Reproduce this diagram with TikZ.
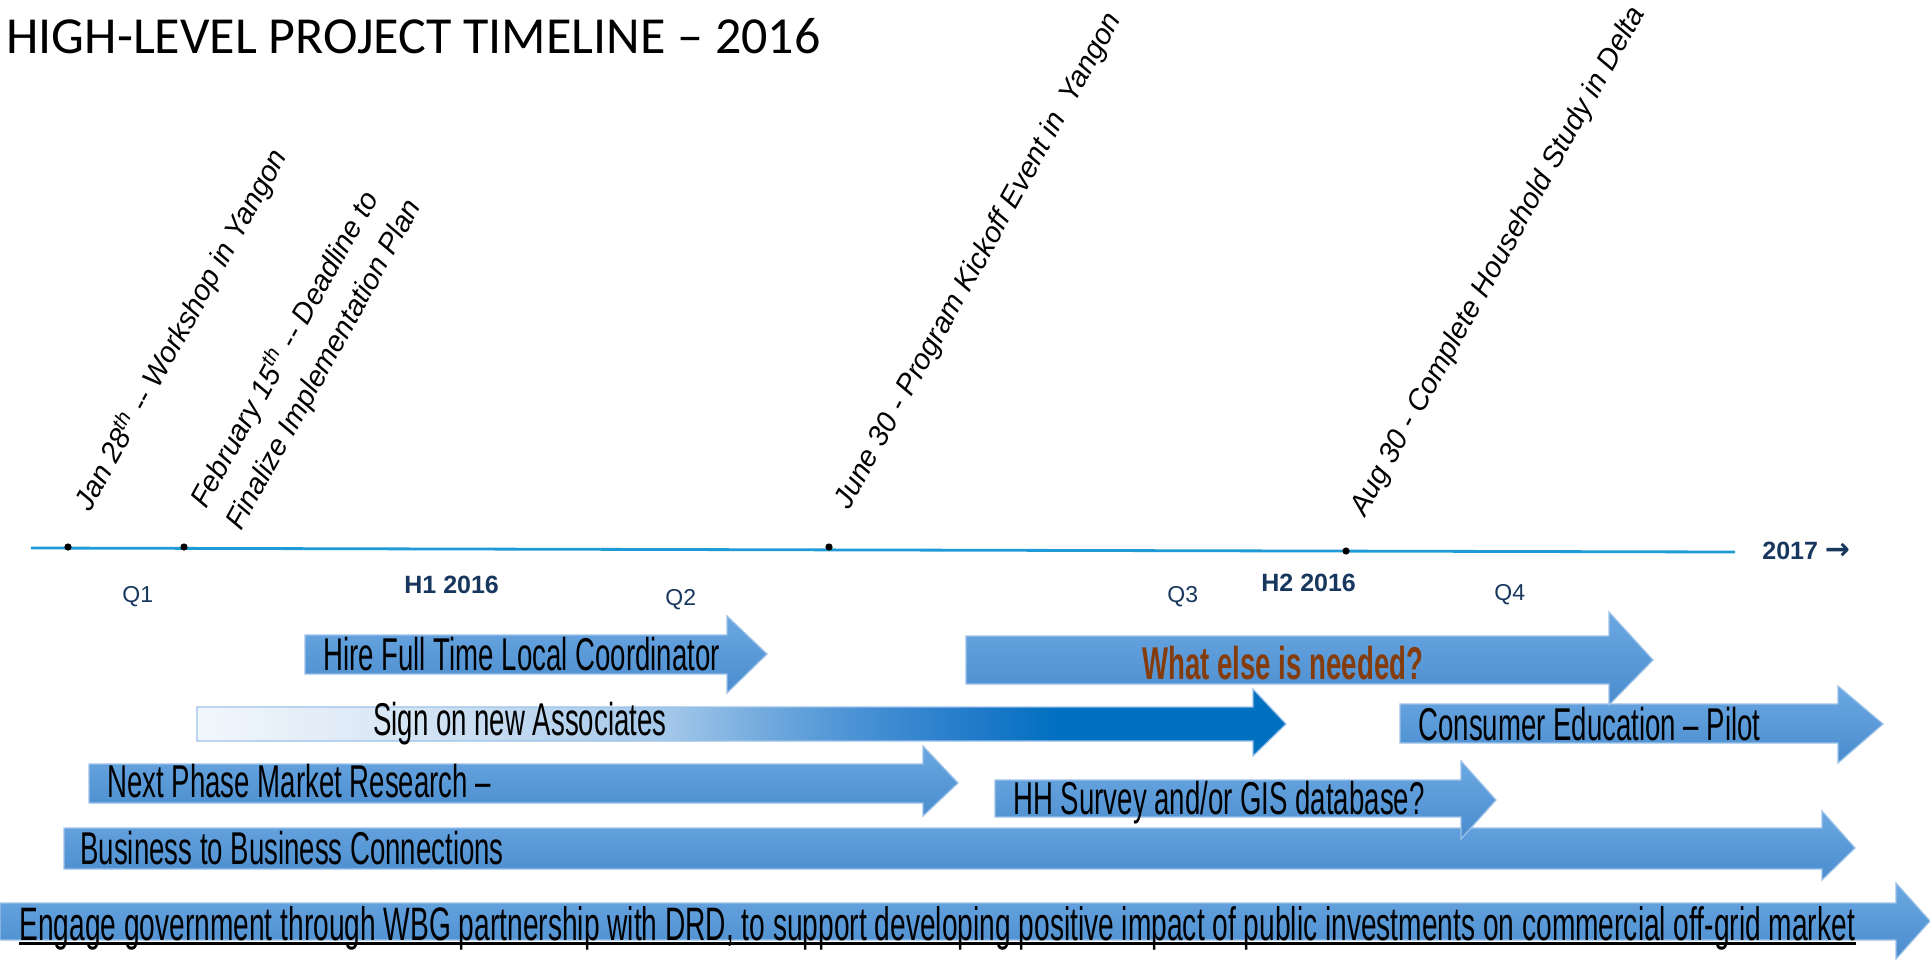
\documentclass[tikz,border=0pt]{standalone}
\usepackage{fontspec}
\setmainfont{Liberation Sans}
\newfontfamily\titlefont{Carlito}
\newfontfamily\arrowfont{DejaVu Sans}
\newfontfamily\barfont[FakeStretch=0.6]{Liberation Sans}
\usetikzlibrary{arrows.meta}
\definecolor{tlblue}{HTML}{1E9AD6}
\definecolor{navy}{HTML}{17375E}
\definecolor{bartop}{HTML}{6BA8E2}
\definecolor{barbot}{HTML}{4A8CCE}
\definecolor{baredge}{HTML}{9CC2E8}
\definecolor{askbrown}{HTML}{843C0C}
\definecolor{sgA}{HTML}{F2F7FC}
\definecolor{sgB}{HTML}{DCE9F6}
\definecolor{sgC}{HTML}{A4C8EA}
\definecolor{sgD}{HTML}{72AADD}
\definecolor{sgE}{HTML}{4891D4}
\definecolor{sgF}{HTML}{1F79C9}
\definecolor{sgG}{HTML}{0070C0}
\pgfdeclarehorizontalshading{signshade}{100bp}{color(0bp)=(sgA); color(25bp)=(sgA); color(33bp)=(sgB); color(46.5bp)=(sgC); color(51bp)=(sgD); color(55.5bp)=(sgE); color(61bp)=(sgF); color(64.5bp)=(sgG); color(100bp)=(sgG)}

\begin{document}
\begin{tikzpicture}[x=0.5pt,y=-0.5pt,
  bar/.style={top color=bartop,bottom color=barbot,draw=baredge,line width=0.6pt},
  bartxt/.style={anchor=base west,inner sep=0pt,font=\barfont\fontsize{23}{26}\selectfont},
  mile/.style={anchor=base west,inner sep=0pt,rotate=61,font=\itshape\fontsize{14.5}{20.5}\selectfont},
  dot/.style={circle,fill=black,inner sep=0pt,minimum size=3.6pt},
  qtxt/.style={anchor=base west,inner sep=0pt,text=navy,font=\fontsize{11.5}{13}\selectfont},
  htxt/.style={qtxt,font=\bfseries\fontsize{12.5}{14}\selectfont}]
\useasboundingbox (0,0) rectangle (1930,959);
\node[anchor=base west,inner sep=0pt,font=\titlefont\fontsize{26}{30}\selectfont] (title) at (6,53) {HIGH-LEVEL PROJECT TIMELINE – 2016};

% time line and milestones
\draw[tlblue,line width=1.4pt] (31,548) -- (1735,552);
\node[dot] (jan) at (68,547) {};
\node[dot] (feb) at (184,547) {};
\node[dot] (jun) at (829,547) {};
\node[dot] (aug) at (1346,551) {};
\node[mile] (janlbl) at ([shift={(22,-34)}]jan) {Jan 28\textsuperscript{th} -{}- Workshop in Yangon};
\node[mile] (feblbl) at ([shift={(22,-37)}]feb) {February 15\textsuperscript{th} -{}- Deadline to};
\node[mile] (feblbl2) at ([shift={(57,-15)}]feb) {Finalize Implementation Plan};
\node[mile] (junlbl) at ([shift={(20,-36)}]jun) {June 30 - Program Kickoff Event in\ \ Yangon};
\node[mile] (auglbl) at ([shift={(19,-33)}]aug) {Aug 30 - Complete Household Study in Delta};
\node[htxt] (next) at (1762,559) {2017 {\arrowfont\bfseries\fontsize{15}{15}\selectfont →}};

% halves and quarters
\node[qtxt] (q1) at (122,602) {Q1};
\node[htxt] (h1) at (404,593) {H1 2016};
\node[qtxt] (q2) at (665,605) {Q2};
\node[qtxt] (q3) at (1167,602) {Q3};
\node[htxt] (h2) at (1261,591) {H2 2016};
\node[qtxt] (q4) at (1494,600) {Q4};

% work streams, bottom row first
\path[bar] (0,903) -- (1896,903) -- (1896,883) -- (1930,921) -- (1896,959) -- (1896,940) -- (0,940) -- cycle;
\path[bar] (64,828) -- (1822,828) -- (1822,811) -- (1855,848) -- (1822,880) -- (1822,869) -- (64,869) -- cycle;
\path[bar] (995,780) -- (1461,780) -- (1461,761) -- (1496,800) -- (1461,839) -- (1461,817) -- (995,817) -- cycle;
\path[bar] (89,764) -- (923,764) -- (923,746) -- (958,783) -- (923,816) -- (923,803) -- (89,803) -- cycle;
\path[bar] (1400,704) -- (1838,704) -- (1838,686) -- (1883,724) -- (1838,763) -- (1838,743) -- (1400,743) -- cycle;
\path[shading=signshade,draw=baredge,line width=0.6pt] (197,707) -- (1253,707) -- (1253,689) -- (1286,724) -- (1253,756) -- (1253,741) -- (197,741) -- cycle;
\path[bar] (966,636) -- (1609,636) -- (1609,612) -- (1653,660) -- (1609,705) -- (1609,684) -- (966,684) -- cycle;
\path[bar] (305,635) -- (727,635) -- (727,616) -- (767,654) -- (727,693) -- (727,674) -- (305,674) -- cycle;

\node[bartxt,font=\barfont\fontsize{23.45}{26}\selectfont] (eng) at (19,940) {Engage government through WBG partnership with DRD, to support developing positive impact of public investments on commercial off-grid market};
\draw[line width=1.5pt] ([yshift=-1.5pt]eng.base west) -- ([yshift=-1.5pt]eng.base east);
\node[bartxt] (b2b) at (80,864) {Business to Business Connections};
\node[bartxt] (hh) at (1013,814) {HH Survey and/or GIS database?};
\node[bartxt] (mkt) at (107,797) {Next Phase Market Research –};
\node[bartxt] (edu) at (1418,740) {Consumer Education – Pilot};
\node[bartxt] (assoc) at (373,735) {Sign on new Associates};
\node[bartxt,text=askbrown,font=\barfont\bfseries\fontsize{23}{26}\selectfont] (ask) at (1142,679) {What else is needed?};
\node[bartxt] (hire) at (323,670) {Hire Full Time Local Coordinator};
\end{tikzpicture}
\end{document}
